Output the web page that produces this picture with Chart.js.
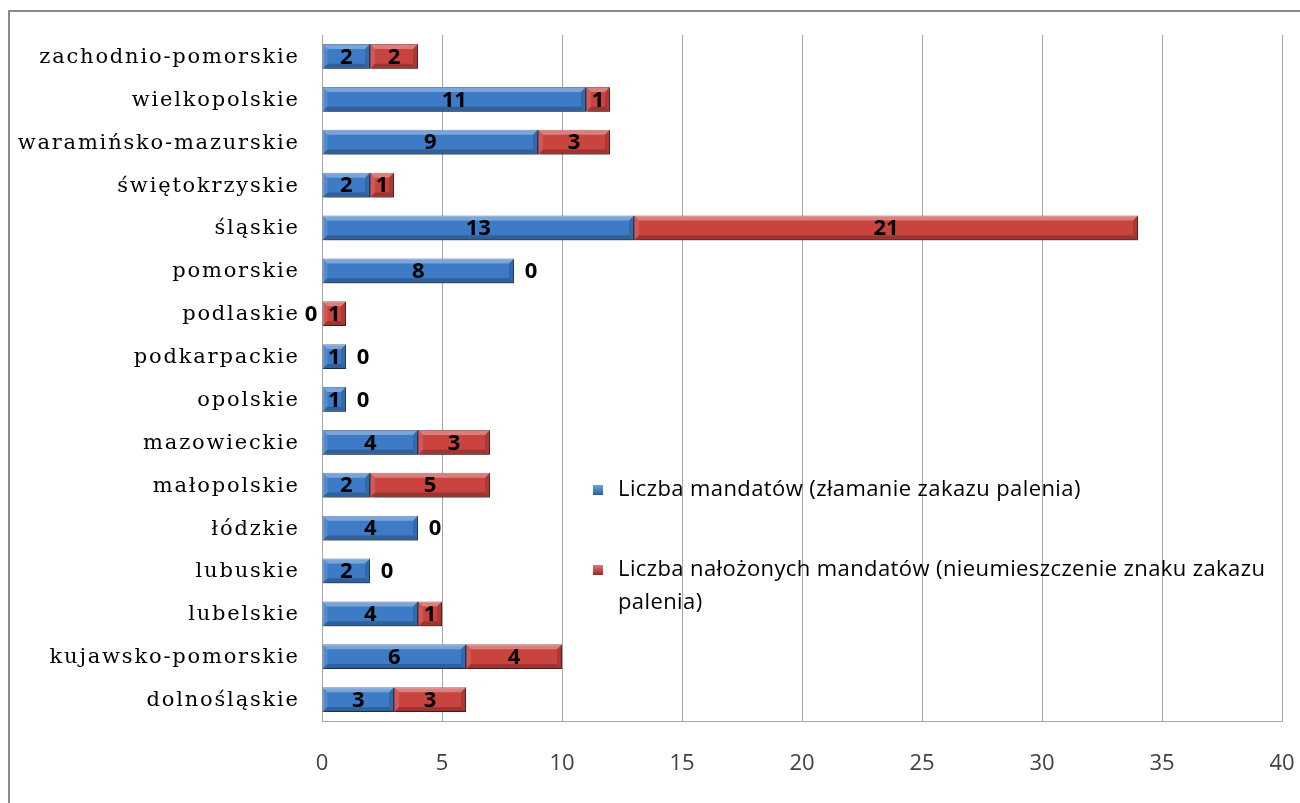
<!DOCTYPE html>
<html>
<head>
<meta charset="utf-8">
<script src="https://cdn.jsdelivr.net/npm/chart.js@4.4.1/dist/chart.umd.min.js"></script>
<style>
  html, body { margin: 0; padding: 0; background: #fff; overflow: hidden; }
  canvas { display: block; }
</style>
</head>
<body>
<canvas id="myChart" width="1300" height="803"></canvas>
<script>
// dane z wykresu (od gory do dolu)
var wojewodztwa = ['zachodnio-pomorskie', 'wielkopolskie', 'waramińsko-mazurskie', 'świętokrzyskie',
  'śląskie', 'pomorskie', 'podlaskie', 'podkarpackie', 'opolskie', 'mazowieckie', 'małopolskie',
  'łódzkie', 'lubuskie', 'lubelskie', 'kujawsko-pomorskie', 'dolnośląskie'];
var mandatyPalenie = [2, 11, 9, 2, 13, 8, 0, 1, 1, 4, 2, 4, 2, 4, 6, 3];
var mandatyZnak = [2, 1, 3, 1, 21, 0, 1, 0, 0, 3, 5, 0, 0, 1, 4, 3];
var nazwySerii = ['Liczba mandatów (złamanie zakazu palenia)',
  ['Liczba nałożonych mandatów (nieumieszczenie znaku zakazu', 'palenia)']];
var osX = { min: 0, max: 40, krok: 5 };

var kolory = ['#3d7bc6', '#c9433f'];
var ramki = ['#2b5a94', '#8f2b28'];

// ramka wokol wykresu
var ramka = {
  id: 'ramka',
  beforeDraw: function(chart){
    var ctx = chart.ctx;
    ctx.save();
    ctx.strokeStyle = '#8a8a8a';
    ctx.lineWidth = 2;
    ctx.beginPath();
    ctx.moveTo(9, 803);
    ctx.lineTo(9, 11);
    ctx.lineTo(1300, 11);
    ctx.stroke();
    ctx.restore();
  }
};

// cien pod slupkami + efekt wypuklenia
var efekt3d = {
  id: 'efekt3d',
  beforeDatasetsDraw: function(chart){
    var ctx = chart.ctx;
    ctx.save();
    ctx.shadowColor = 'rgba(0,0,0,0.35)';
    ctx.shadowBlur = 4;
    ctx.shadowOffsetX = 2;
    ctx.shadowOffsetY = 3;
  },
  afterDatasetsDraw: function(chart){
    var ctx = chart.ctx;
    ctx.restore();
    chart.data.datasets.forEach(function(ds, d){
      chart.getDatasetMeta(d).data.forEach(function(el){
        var l = Math.min(el.x, el.base), r = Math.max(el.x, el.base);
        var t = el.y - el.height / 2, b = el.y + el.height / 2;
        var w = r - l;
        if (w < 1) return;
        var e = Math.min(5, w / 2);
        ctx.save();
        ctx.fillStyle = 'rgba(255,255,255,0.32)';
        ctx.beginPath();
        ctx.moveTo(l, t); ctx.lineTo(r, t); ctx.lineTo(r - e, t + e); ctx.lineTo(l + e, t + e);
        ctx.closePath(); ctx.fill();
        ctx.fillStyle = 'rgba(255,255,255,0.12)';
        ctx.beginPath();
        ctx.moveTo(l, t); ctx.lineTo(l + e, t + e); ctx.lineTo(l + e, b - e); ctx.lineTo(l, b);
        ctx.closePath(); ctx.fill();
        ctx.fillStyle = 'rgba(0,0,0,0.22)';
        ctx.beginPath();
        ctx.moveTo(l, b); ctx.lineTo(r, b); ctx.lineTo(r - e, b - e); ctx.lineTo(l + e, b - e);
        ctx.closePath(); ctx.fill();
        ctx.fillStyle = 'rgba(0,0,0,0.14)';
        ctx.beginPath();
        ctx.moveTo(r, t); ctx.lineTo(r, b); ctx.lineTo(r - e, b - e); ctx.lineTo(r - e, t + e);
        ctx.closePath(); ctx.fill();
        ctx.restore();
      });
    });
  }
};

// etykiety kategorii, wartosci i legenda
var teksty = {
  id: 'teksty',
  afterDraw: function(chart){
    var ctx = chart.ctx;
    var yScale = chart.scales.y;
    var area = chart.chartArea;
    ctx.save();

    // nazwy wojewodztw
    ctx.font = '21px "DejaVu Serif"';
    ctx.fillStyle = '#000';
    ctx.textAlign = 'right';
    ctx.textBaseline = 'middle';
    ctx.letterSpacing = '1.8px';
    wojewodztwa.forEach(function(nazwa, i){
      ctx.fillText(nazwa, area.left - 24 + 1.8, yScale.getPixelForTick(i) + 1);
    });

    // wartosci
    ctx.font = 'bold 22px "Open Sans"';
    ctx.letterSpacing = '0px';
    ctx.textAlign = 'center';
    chart.data.datasets.forEach(function(ds, d){
      chart.getDatasetMeta(d).data.forEach(function(el, i){
        var v = ds.data[i];
        var x;
        if (v > 0) x = (el.x + el.base) / 2;
        else if (d == 0) x = el.base - 11;
        else x = el.x + 17;
        ctx.fillText(String(v), x, el.y + 1);
      });
    });

    // legenda
    ctx.font = '22px "Open Sans"';
    ctx.letterSpacing = '0.4px';
    ctx.textAlign = 'left';
    ctx.fillStyle = '#000';
    var lx = area.left + 271;
    var poz = [490, 570];
    nazwySerii.forEach(function(nazwa, d){
      var ly = poz[d];
      var g = ctx.createLinearGradient(0, ly - 5, 0, ly + 5);
      g.addColorStop(0, d == 0 ? '#6aa6ec' : '#e87470');
      g.addColorStop(1, ramki[d]);
      ctx.fillStyle = g;
      ctx.fillRect(lx, ly - 5, 10, 10);
      ctx.fillStyle = '#000';
      var linie = Array.isArray(nazwa) ? nazwa : [nazwa];
      linie.forEach(function(t, k){
        ctx.fillText(t, lx + 25, ly + k * 33);
      });
    });
    ctx.restore();
  }
};

var ctx = document.getElementById('myChart');
var myChart = new Chart(ctx, {
  type: 'bar',
  data: {
    labels: wojewodztwa,
    datasets: [
      { label: 'Liczba mandatów (złamanie zakazu palenia)', data: mandatyPalenie,
        backgroundColor: kolory[0], borderColor: ramki[0], borderWidth: 1, borderSkipped: false },
      { label: 'Liczba nałożonych mandatów (nieumieszczenie znaku zakazu palenia)', data: mandatyZnak,
        backgroundColor: kolory[1], borderColor: ramki[1], borderWidth: 1, borderSkipped: false }
    ]
  },
  options: {
    indexAxis: 'y',
    responsive: false,
    animation: false,
    datasets: { bar: { categoryPercentage: 1, barPercentage: 0.58 } },
    layout: { padding: { top: 35, right: 18, left: 0, bottom: 0 } },
    plugins: { legend: { display: false }, tooltip: { enabled: false } },
    scales: {
      x: {
        stacked: true,
        min: osX.min, max: osX.max,
        afterFit: function(scale){ scale.height = 82; scale.paddingLeft = 0; scale.paddingRight = 0; },
        ticks: { stepSize: osX.krok, color: '#404040', padding: 30,
          font: { family: 'Open Sans', size: 22 } },
        grid: { color: '#a6a6a6', drawTicks: false },
        border: { color: '#a6a6a6' }
      },
      y: {
        stacked: true,
        afterFit: function(scale){ scale.width = 322; },
        ticks: { display: false },
        grid: { display: false },
        border: { color: '#a6a6a6' }
      }
    }
  },
  plugins: [ramka, efekt3d, teksty]
});
</script>
</body>
</html>
